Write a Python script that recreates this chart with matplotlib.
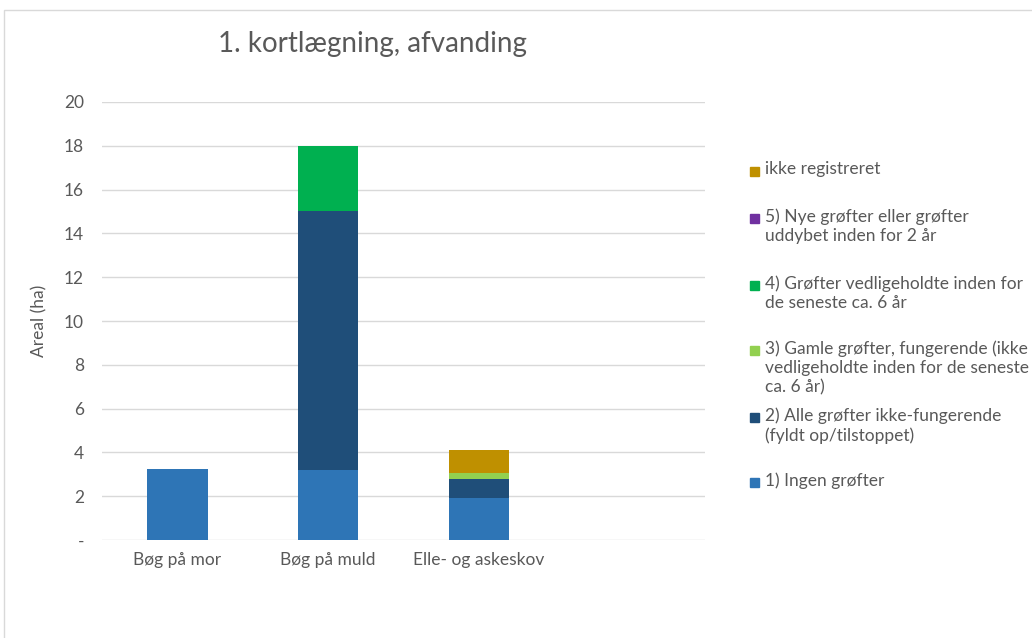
import numpy as np
import matplotlib.pyplot as plt
from matplotlib.patches import Rectangle

plt.rcParams['font.family'] = ['Lato', 'DejaVu Sans']

categories = ['Bøg på mor', 'Bøg på muld', 'Elle- og askeskov', '']
series_names = [
    '1) Ingen grøfter',
    '2) Alle grøfter ikke-fungerende\n(fyldt op/tilstoppet)',
    '3) Gamle grøfter, fungerende (ikke\nvedligeholdte inden for de seneste\nca. 6 år)',
    '4) Grøfter vedligeholdte inden for\nde seneste ca. 6 år',
    '5) Nye grøfter eller grøfter\nuddybet inden for 2 år',
    'ikke registreret',
]
ingen = [3.25, 3.2, 1.9, 0]
alle_ikke_fung = [0, 11.8, 0.87, 0]
gamle_fung = [0, 0, 0.3, 0]
vedligeholdt = [0, 3.0, 0, 0]
nye = [0, 0, 0, 0]
ikke_reg = [0, 0, 1.03, 0]
colors = ['#2E75B6', '#1F4E79', '#92D050', '#00B050', '#7030A0', '#BF9000']

values = [ingen, alle_ikke_fung, gamle_fung, vedligeholdt, nye, ikke_reg]

fig = plt.figure(figsize=(10.32, 6.38), dpi=100)
W, H = 1032, 638
ax = fig.add_axes([102 / W, 98 / H, 603 / W, 438 / H])

# outer chart frame (cut off at right and bottom)
fig.patches.append(Rectangle((4 / W, -0.1), 1.2, (H - 10) / H + 0.1,
                             transform=fig.transFigure, fill=False,
                             edgecolor='#D9D9D9', linewidth=1))

x = np.arange(len(categories))
bottom = np.zeros(len(categories))
for vals, col in zip(values, colors):
    ax.bar(x, vals, width=0.4, bottom=bottom, color=col, zorder=3)
    bottom += np.array(vals)

ax.set_xlim(-0.5, 3.5)
ax.set_ylim(0, 20)
ticks = np.arange(0, 21, 2)
ax.set_yticks(ticks)
ax.set_yticklabels(['-'] + [str(t) for t in ticks[1:]])
ax.set_xticks(x)
ax.set_xticklabels(categories)
ax.grid(axis='y', color='#D9D9D9', linewidth=1, zorder=0)
for s in ax.spines.values():
    s.set_visible(False)
ax.tick_params(length=0, labelsize=12.5, colors='#595959')
ax.tick_params(axis='y', pad=13)
ax.tick_params(axis='x', pad=9)
ax.set_ylabel('Areal (ha)', fontsize=12.5, color='#595959', labelpad=12)

fig.text(372 / W, 1 - 44 / H, '1. kortlægning, afvanding', fontsize=20,
         color='#595959', ha='center', va='center')

# legend, reverse order as in the reference
leg_y = [171, 218, 285, 350, 417, 482]
for name, col, yy in zip(series_names[::-1], colors[::-1], leg_y):
    fig.patches.append(Rectangle((750 / W, 1 - (yy + 4.5) / H), 9 / W, 9 / H,
                                 transform=fig.transFigure, color=col))
    fig.text(765 / W, 1 - (yy - 10) / H, name, fontsize=12.5, color='#595959',
             ha='left', va='top', linespacing=1.27)

fig.savefig('out.png', dpi=100)
